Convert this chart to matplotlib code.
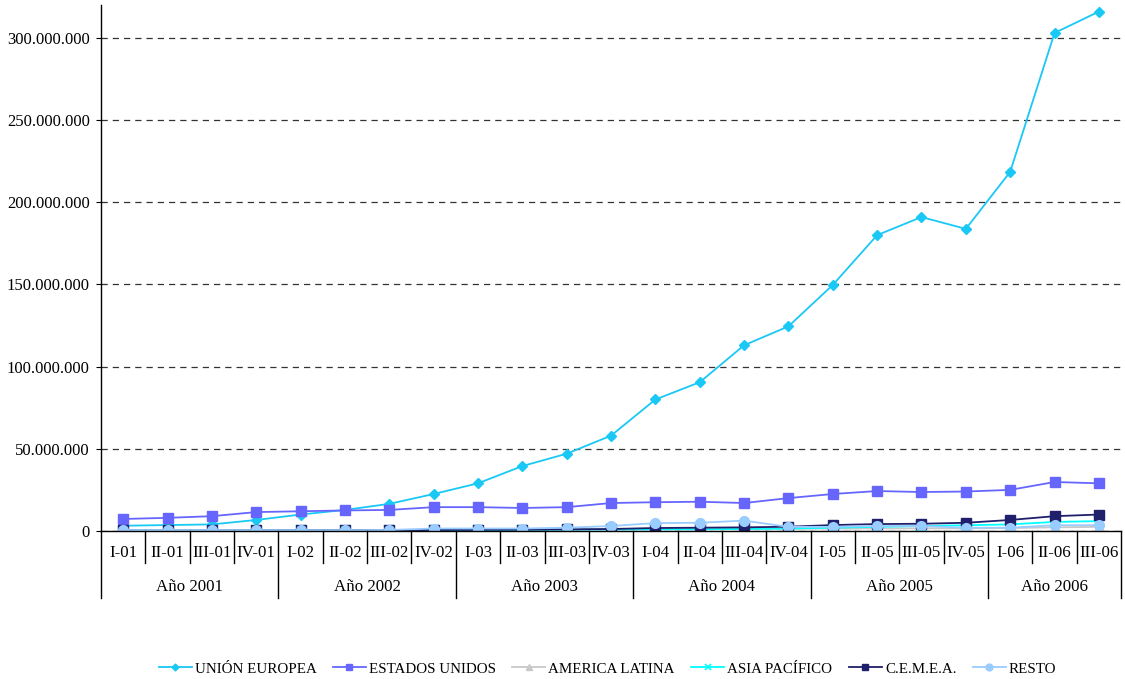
import matplotlib
matplotlib.use("Agg")
import matplotlib.pyplot as plt
import matplotlib.ticker as mticker
from matplotlib.transforms import blended_transform_factory

quarters = ["I-01", "II-01", "III-01", "IV-01", "I-02", "II-02", "III-02", "IV-02",
            "I-03", "II-03", "III-03", "IV-03", "I-04", "II-04", "III-04", "IV-04",
            "I-05", "II-05", "III-05", "IV-05", "I-06", "II-06", "III-06"]
years = ["Año 2001", "Año 2002", "Año 2003", "Año 2004", "Año 2005", "Año 2006"]
year_sizes = [4, 4, 4, 4, 4, 3]

union_europea = [3.2e6, 3.6e6, 4.0e6, 6.7e6, 10.0e6, 12.8e6, 16.5e6, 22.5e6,
                 29.0e6, 39.5e6, 47.0e6, 58.0e6, 80.0e6, 90.5e6, 113.0e6, 124.5e6,
                 149.7e6, 180.0e6, 191.0e6, 183.8e6, 218.5e6, 303.0e6, 316.0e6]
estados_unidos = [7.3e6, 8.0e6, 9.0e6, 11.5e6, 12.0e6, 12.5e6, 12.8e6, 14.5e6,
                  14.5e6, 14.0e6, 14.5e6, 17.0e6, 17.5e6, 17.8e6, 17.0e6, 20.0e6,
                  22.5e6, 24.3e6, 23.7e6, 24.0e6, 25.0e6, 29.8e6, 29.0e6]
america_latina = [0.3e6, 0.3e6, 0.3e6, 0.4e6, 0.4e6, 0.4e6, 0.5e6, 0.6e6,
                  0.7e6, 0.8e6, 0.9e6, 1.0e6, 1.0e6, 1.1e6, 1.2e6, 1.3e6,
                  1.4e6, 1.5e6, 1.6e6, 1.6e6, 1.8e6, 2.2e6, 2.5e6]
asia_pacifico = [0.2e6, 0.2e6, 0.2e6, 0.3e6, 0.3e6, 0.3e6, 0.4e6, 0.5e6,
                 0.6e6, 0.7e6, 0.8e6, 0.9e6, 1.0e6, 1.0e6, 1.2e6, 1.5e6,
                 2.0e6, 2.5e6, 3.0e6, 3.5e6, 4.0e6, 5.5e6, 6.0e6]
cemea = [0.3e6, 0.3e6, 0.3e6, 0.4e6, 0.4e6, 0.5e6, 0.5e6, 0.6e6,
         0.7e6, 0.8e6, 1.0e6, 1.2e6, 1.8e6, 2.0e6, 2.2e6, 2.6e6,
         3.6e6, 4.2e6, 4.4e6, 5.0e6, 6.7e6, 9.0e6, 10.0e6]
resto = [0.5e6, 0.5e6, 0.5e6, 0.5e6, 0.5e6, 0.5e6, 0.6e6, 1.5e6,
         1.5e6, 1.5e6, 2.0e6, 3.0e6, 4.8e6, 5.0e6, 6.3e6, 2.5e6,
         2.5e6, 3.0e6, 3.0e6, 2.0e6, 2.0e6, 3.5e6, 3.5e6]

series = [
    ("UNIÓN EUROPEA", union_europea, "#19C8F5", "D", 5),
    ("ESTADOS UNIDOS", estados_unidos, "#6666FF", "s", 7),
    ("AMERICA LATINA", america_latina, "#C8C8C8", "^", 7),
    ("ASIA PACÍFICO", asia_pacifico, "#00FFFF", "x", 7),
    ("C.E.M.E.A.", cemea, "#1F1F6B", "s", 7),
    ("RESTO", resto, "#99CCFF", "o", 7),
]

plt.rcParams["font.family"] = ["Liberation Serif", "DejaVu Serif"]

fig = plt.figure(figsize=(11.25, 6.79), dpi=100)
ax = fig.add_axes([0.0898, 0.218, 0.9067, 0.7746])

x = list(range(len(quarters)))
for name, vals, color, marker, ms in series:
    kw = dict(markeredgewidth=1.2) if marker == "x" else dict(markeredgecolor=color)
    ax.plot(x, vals, color=color, marker=marker, markersize=ms, linewidth=1.3,
            label=name, **kw)

ax.set_xlim(-0.5, len(quarters) - 0.5)
ax.set_ylim(0, 320e6)
ax.yaxis.set_major_locator(mticker.MultipleLocator(50e6))
ax.yaxis.set_major_formatter(mticker.FuncFormatter(
    lambda v, p: f"{int(v):,}".replace(",", ".")))
ax.tick_params(axis="y", labelsize=12, length=3.6, direction="out", pad=4.5)
ax.set_xticks([])
ax.grid(axis="y", color="#333333", linestyle=(0, (5, 4)), linewidth=0.9)
ax.set_axisbelow(True)
for s in ["top", "right"]:
    ax.spines[s].set_visible(False)
ax.spines["left"].set_linewidth(1.0)
ax.spines["bottom"].set_linewidth(1.0)

# two-level category axis
trans = blended_transform_factory(ax.transData, ax.transAxes)
ax_h_px = 0.7746 * 679
q_depth = -32 / ax_h_px
y_depth = -67 / ax_h_px
q_label_y = -22 / ax_h_px
y_label_y = -56 / ax_h_px

year_bounds = [0]
for n in year_sizes:
    year_bounds.append(year_bounds[-1] + n)

for k in range(len(quarters) + 1):
    depth = y_depth if k in year_bounds else q_depth
    ax.plot([k - 0.5, k - 0.5], [0, depth], transform=trans, color="black",
            linewidth=1.0, clip_on=False)
for i, q in enumerate(quarters):
    ax.text(i, q_label_y, q, transform=trans, ha="center", va="center", fontsize=12.2)
for j, yl in enumerate(years):
    c = (year_bounds[j] + year_bounds[j + 1] - 1) / 2
    ax.text(c, y_label_y, yl, transform=trans, ha="center", va="center", fontsize=12.2)

fig.legend(loc="center", bbox_to_anchor=(0.54, 0.015), ncol=6, frameon=False,
           fontsize=10.8, handlelength=2.2, handletextpad=0.2, columnspacing=1.1,
           markerscale=0.7)

fig.savefig("out.png", dpi=100)
